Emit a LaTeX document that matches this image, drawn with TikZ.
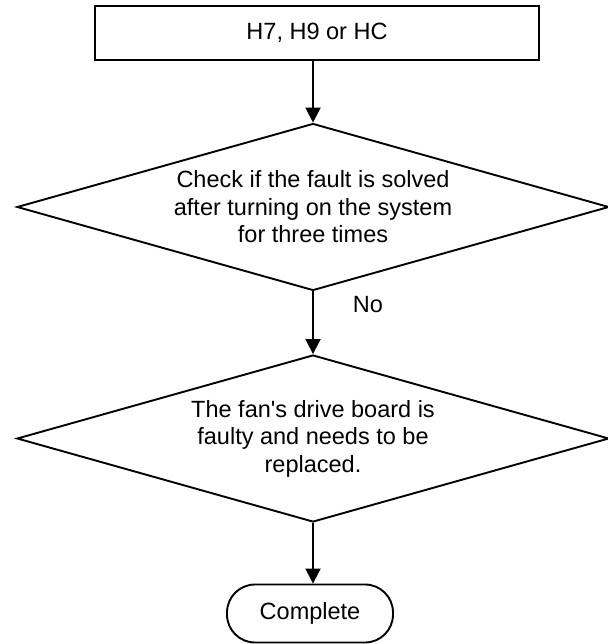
\documentclass[tikz,border=0pt]{standalone}
\usepackage{fontspec}
\setmainfont{Liberation Sans}[Ligatures=TeXOff]
\usetikzlibrary{shapes.geometric,arrows.meta}
\begin{document}
\begin{tikzpicture}[x=1pt,y=1pt,
  every node/.style={font=\fontsize{23.5}{27.5}\selectfont},
  box/.style={draw, line width=1.9pt, minimum width=444pt, minimum height=54pt, inner sep=0pt},
  decision/.style={draw, diamond, line width=1.9pt, minimum width=592pt, minimum height=167pt, aspect=3.55, inner sep=0pt, align=center},
  term/.style={draw, line width=1.9pt, rounded corners=28pt, minimum width=166pt, minimum height=58pt, inner sep=0pt},
  arr/.style={line width=1.9pt, -{Triangle[width=15pt,length=15pt]}},
  lbl/.style={inner sep=0pt}]
\useasboundingbox (0,0) rectangle (607,-644);
\node[box] (start) at (317,-33) {H7, H9 or HC};
\node[decision] (d1) at (313,-207) {Check if the fault is solved\\after turning on the system\\for three times};
\node[decision] (d2) at (313,-438.5) {The fan's drive board is\\faulty and needs to be\\replaced.};
\node[term] (end) at (310,-613.5) {Complete};
\draw[arr] (start.south -| d1.north) -- (d1.north);
\draw[arr] (d1.south) -- (d2.north);
\draw[arr] (d2.south) -- (end.north -| d2.south);
\node[lbl] (no) at (368,-305) {No};
\end{tikzpicture}
\end{document}
